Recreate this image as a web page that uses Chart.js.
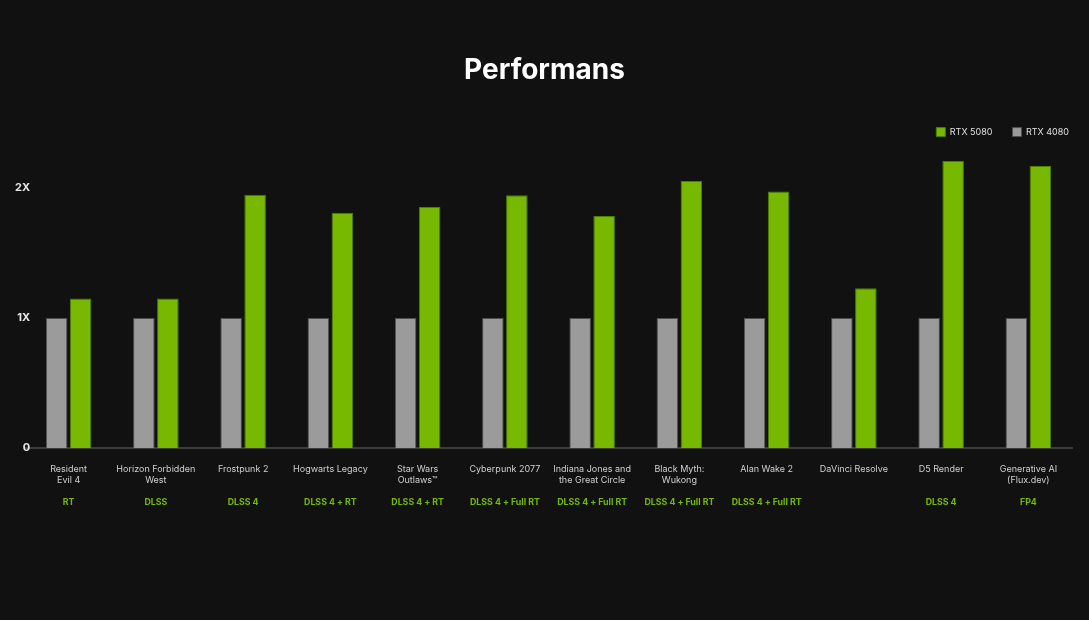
<!DOCTYPE html>
<html>
<head>
<meta charset="utf-8">
<script src="https://cdn.jsdelivr.net/npm/chart.js@4"></script>
<style>
  html, body { margin: 0; padding: 0; background: #111111; }
  #wrap { width: 1089px; height: 620px; }
</style>
</head>
<body>
<div id="wrap"><canvas id="perfChart"></canvas></div>
<script>
// Kategorien (Spielnamen), mehrzeilig als Arrays
const games = [
    ["Resident", "Evil 4"],
    ["Horizon Forbidden", "West"],
    "Frostpunk 2",
    "Hogwarts Legacy",
    ["Star Wars", "Outlaws\u2122"],
    "Cyberpunk 2077",
    ["Indiana Jones and", "the Great Circle"],
    ["Black Myth:", "Wukong"],
    "Alan Wake 2",
    "DaVinci Resolve",
    "D5 Render",
    ["Generative AI", "(Flux.dev)"]
];
// Technik-Hinweise unter den Namen
const techTags = ["RT", "DLSS", "DLSS 4", "DLSS 4 + RT", "DLSS 4 + RT", "DLSS 4 + Full RT",
    "DLSS 4 + Full RT", "DLSS 4 + Full RT", "DLSS 4 + Full RT", "", "DLSS 4", "FP4"];

const rtx4080 = [1, 1, 1, 1, 1, 1, 1, 1, 1, 1, 1, 1];
const rtx5080 = [1.15, 1.15, 1.95, 1.81, 1.855, 1.945, 1.785, 2.055, 1.975, 1.23, 2.21, 2.17];

const yTickValues = [0, 1, 2];
const yTickLabels = ["0", "1X", "2X"];

const ctx = document.getElementById("perfChart");
new Chart(ctx, {
    type: "bar",
    data: {
        labels: games,
        datasets: [{
            label: "RTX 4080",
            data: rtx4080,
            backgroundColor: "#9b9b9b",
            borderColor: "#505050",
            borderWidth: 1,
            categoryPercentage: 0.55,
            barPercentage: 0.9
        }, {
            label: "RTX 5080",
            data: rtx5080,
            backgroundColor: "#76b900",
            borderColor: "#4f7d00",
            borderWidth: 1,
            categoryPercentage: 0.55,
            barPercentage: 0.9
        }]
    },
    options: {
        responsive: true,
        maintainAspectRatio: false,
        animation: false,
        layout: { padding: { left: 0, right: 0, top: 0, bottom: 102 } },
        plugins: {
            title: {
                display: true,
                text: "Performans",
                color: "#ffffff",
                font: { family: "Inter", size: 28, weight: "bold" },
                padding: { top: 54, bottom: 20 }
            },
            legend: {
                display: true,
                position: "top",
                align: "end",
                reverse: true,
                labels: {
                    color: "#e0e0e0",
                    font: { family: "Inter", size: 9 },
                    boxWidth: 9,
                    boxHeight: 9,
                    padding: 20,
                    useBorderRadius: false
                }
            },
            tooltip: { enabled: false }
        },
        scales: {
            x: {
                grid: { display: false, drawTicks: false },
                border: { display: true, color: "#3c3c3c", width: 2 },
                afterFit: (scale) => { scale.height = 38; },
                ticks: {
                    color: "#d0d0d0",
                    font: { family: "Inter", size: 9 },
                    padding: 15.6,
                    maxRotation: 0,
                    autoSkip: false
                }
            },
            x2: {
                type: "category",
                position: "bottom",
                labels: techTags,
                grid: { display: false, drawTicks: false },
                border: { display: false },
                ticks: {
                    color: "#76b900",
                    font: { family: "Inter", size: 8.8, weight: "bold" },
                    padding: 10.7,
                    maxRotation: 0,
                    autoSkip: false
                }
            },
            y: {
                min: 0,
                max: 2.32,
                grid: { display: false, drawTicks: false },
                border: { display: false },
                afterFit: (scale) => { scale.width = 25; },
                afterBuildTicks: (scale) => {
                    scale.ticks = yTickValues.map((v) => ({ value: v }));
                },
                ticks: {
                    color: "#e8e8e8",
                    font: { family: "Inter", size: 11, weight: "bold" },
                    mirror: true,
                    crossAlign: "far",
                    padding: -10,
                    callback: (value) => yTickLabels[yTickValues.indexOf(value)]
                }
            },
            // leere rechte Achse als Abstand zum Rand
            yRight: {
                position: "right",
                display: true,
                grid: { display: false, drawTicks: false },
                border: { display: false },
                ticks: { display: false },
                afterFit: (scale) => { scale.width = 17; }
            }
        }
    }
});
</script>
</body>
</html>
